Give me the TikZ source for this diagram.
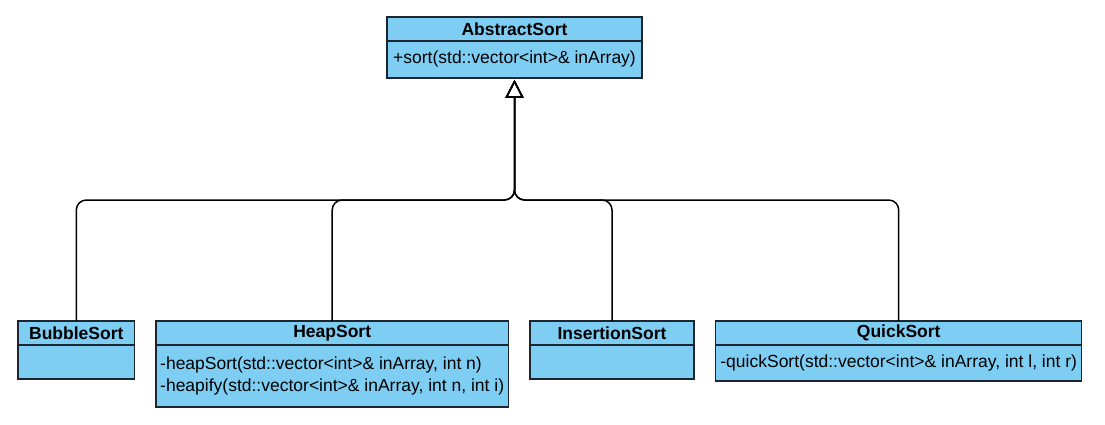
\documentclass[tikz,border=0pt]{standalone}
\usepackage{fontspec}
\setmainfont{Liberation Sans}
\usetikzlibrary{positioning,arrows.meta}
\definecolor{classblue}{RGB}{126,206,244}
\definecolor{classline}{RGB}{28,38,48}

\begin{document}
\begin{tikzpicture}[x=1pt,y=-1pt,
    head/.style={rectangle,draw=classline,fill=classblue,line width=1.5pt,minimum height=24pt,inner sep=0pt,outer sep=0pt,font=\fontsize{17.5}{22}\selectfont\bfseries},
    body/.style={rectangle,draw=classline,fill=classblue,line width=1.5pt,inner sep=0pt,outer sep=0pt,align=left,font=\fontsize{17.5}{22}\selectfont},
    inherit/.style={line width=1.5pt,rounded corners=10pt,shorten >=2pt,-{Triangle[open,length=18pt,width=18pt,line width=1.5pt]}}]
            \useasboundingbox (0,0) rectangle (1105,424);
            \node[head,minimum width=255pt](abs) at (514.5,28.8){AbstractSort};
            \node[body,minimum width=255pt,minimum height=37pt](absb)[below =0pt of abs]{+sort(std::vector<int>\& inArray)};
            \node[head,minimum width=116.7pt](bub) at (76.3,333){BubbleSort};
            \node[body,minimum width=116.7pt,minimum height=34pt](bubb)[below =0pt of bub]{};
            \node[head,minimum width=352.3pt](heap) at (332.2,333){HeapSort};
            \node[body,minimum width=352.3pt,minimum height=62pt](heapb)[below =0pt of heap]{-heapSort(std::vector<int>\& inArray, int n)\\-heapify(std::vector<int>\& inArray, int n, int i)};
            \node[head,minimum width=164pt](ins) at (612,333){InsertionSort};
            \node[body,minimum width=164pt,minimum height=34pt](insb)[below =0pt of ins]{};
            \node[head,minimum width=366pt](quick) at (898.7,333){QuickSort};
            \node[body,minimum width=366pt,minimum height=36pt](quickb)[below =0pt of quick]{-quickSort(std::vector<int>\& inArray, int l, int r)};
            \coordinate (fork) at (514.5,200);
            \draw[inherit](bub.north) |- (fork) -- (absb.south);
            \draw[inherit](heap.north) |- (fork) -- (absb.south);
            \draw[inherit](ins.north) |- (fork) -- (absb.south);
            \draw[inherit](quick.north) |- (fork) -- (absb.south);
        \end{tikzpicture}
\end{document}
